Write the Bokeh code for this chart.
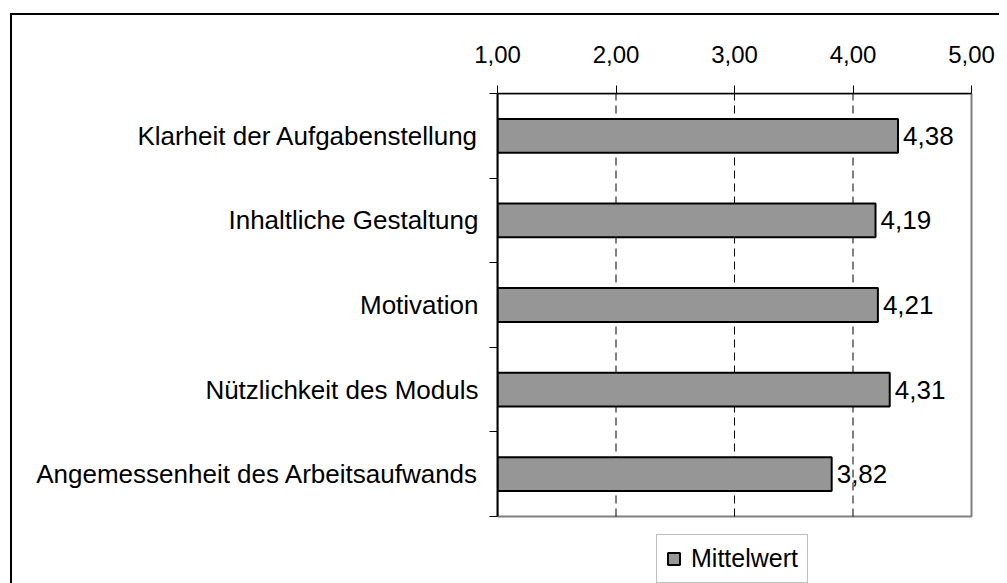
from bokeh.plotting import figure
from bokeh.models import Range1d, FixedTicker, Legend, LegendItem, ColumnDataSource
from bokeh.core.properties import value
from bokeh.embed import file_html
from bokeh.resources import INLINE

categories = ["Klarheit der Aufgabenstellung", "Inhaltliche Gestaltung", "Motivation",
              "Nützlichkeit des Moduls", "Angemessenheit des Arbeitsaufwands"]
means = [4.38, 4.19, 4.21, 4.31, 3.82]
x_ticks = [1, 2, 3, 4, 5]
x_tick_labels = ["1,00", "2,00", "3,00", "4,00", "5,00"]
series_name = "Mittelwert"

FONT = "Liberation Sans"
n = len(categories)
ypos = [n - i - 0.5 for i in range(n)]
value_labels = [f"{v:.2f}".replace(".", ",") for v in means]

# layout (pixels)
PLOT_W, PLOT_H = 474, 423      # visible plot area
PAD_R = 2                      # room so the right border is not clipped
EXTRA_B = 67                   # room under the plot area for the legend
x0, x1 = x_ticks[0], x_ticks[-1]
x_end = x1 + PAD_R * (x1 - x0) / PLOT_W
y_start = -EXTRA_B * n / PLOT_H

src = ColumnDataSource(dict(y=ypos, v=means, lab=value_labels))

p = figure(frame_width=PLOT_W + PAD_R, frame_height=PLOT_H + EXTRA_B,
           min_border_left=485, min_border_right=26, min_border_top=78, min_border_bottom=0,
           x_range=Range1d(x0, x_end), y_range=Range1d(y_start, n),
           x_axis_location="above", output_backend="svg", toolbar_location=None, tools="")
p.styles = {"margin-left": "10px", "margin-top": "13px",
            "border-left": "2px solid black", "border-top": "2px solid black"}

p.background_fill_color = "white"
p.border_fill_color = "white"
p.outline_line_color = None

# x axis (top)
xa = p.xaxis[0]
xa.ticker = FixedTicker(ticks=x_ticks, minor_ticks=[])
xa.bounds = (x0, x1)
xa.major_label_overrides = {t: l for t, l in zip(x_ticks, x_tick_labels)}
xa.major_label_text_font = FONT
xa.major_label_text_font_size = "24px"
xa.major_label_text_color = "black"
xa.major_tick_out = 8
xa.major_tick_in = 0
xa.major_tick_line_color = "black"
xa.axis_line_color = "black"
xa.axis_line_width = 1.5
xa.major_label_standoff = 23

# y axis (left): labels at centers, ticks at boundaries
ya = p.yaxis[0]
ya.ticker = FixedTicker(ticks=ypos, minor_ticks=list(range(n + 1)))
ya.bounds = (0, n)
ya.major_label_overrides = {y: c for y, c in zip(ypos, categories)}
ya.major_label_text_font = FONT
ya.major_label_text_font_size = "26px"
ya.major_label_text_color = "black"
ya.major_tick_out = 0
ya.major_tick_in = 0
ya.minor_tick_out = 8
ya.minor_tick_in = 0
ya.minor_tick_line_color = "black"
ya.axis_line_color = "black"
ya.axis_line_width = 2
ya.major_label_standoff = 11

p.xgrid.visible = False
p.ygrid.visible = False

# plot-area border (grey) and dashed vertical gridlines
p.quad(left=x0, right=x1, bottom=0, top=n, fill_color=None,
       line_color="#808080", line_width=2)
inner = x_ticks[1:-1]
p.segment(x0=inner, y0=[0] * len(inner), x1=inner, y1=[n] * len(inner),
          line_color="black", line_width=1, line_dash="8 5")

r = p.hbar(y="y", right="v", left=x0, height=0.4, source=src,
           fill_color="#969696", line_color="black", line_width=2)

p.text(x="v", y="y", text="lab", source=src, x_offset=5, text_baseline="middle",
       text_align="left", text_font=value(FONT), text_font_size="26px", text_color="black")

legend = Legend(items=[LegendItem(label=series_name, renderers=[r])], location=(159, 0))
legend.label_text_font = FONT
legend.label_text_font_size = "25px"
legend.label_text_color = "black"
legend.label_height = 26
legend.glyph_width = 15
legend.glyph_height = 15
legend.label_standoff = 10
legend.padding = 9
legend.margin = 0
legend.border_line_color = "#808080"
legend.border_line_width = 1.5
legend.background_fill_alpha = 1
p.add_layout(legend)

open("out.html", "w").write(file_html(p, INLINE))
